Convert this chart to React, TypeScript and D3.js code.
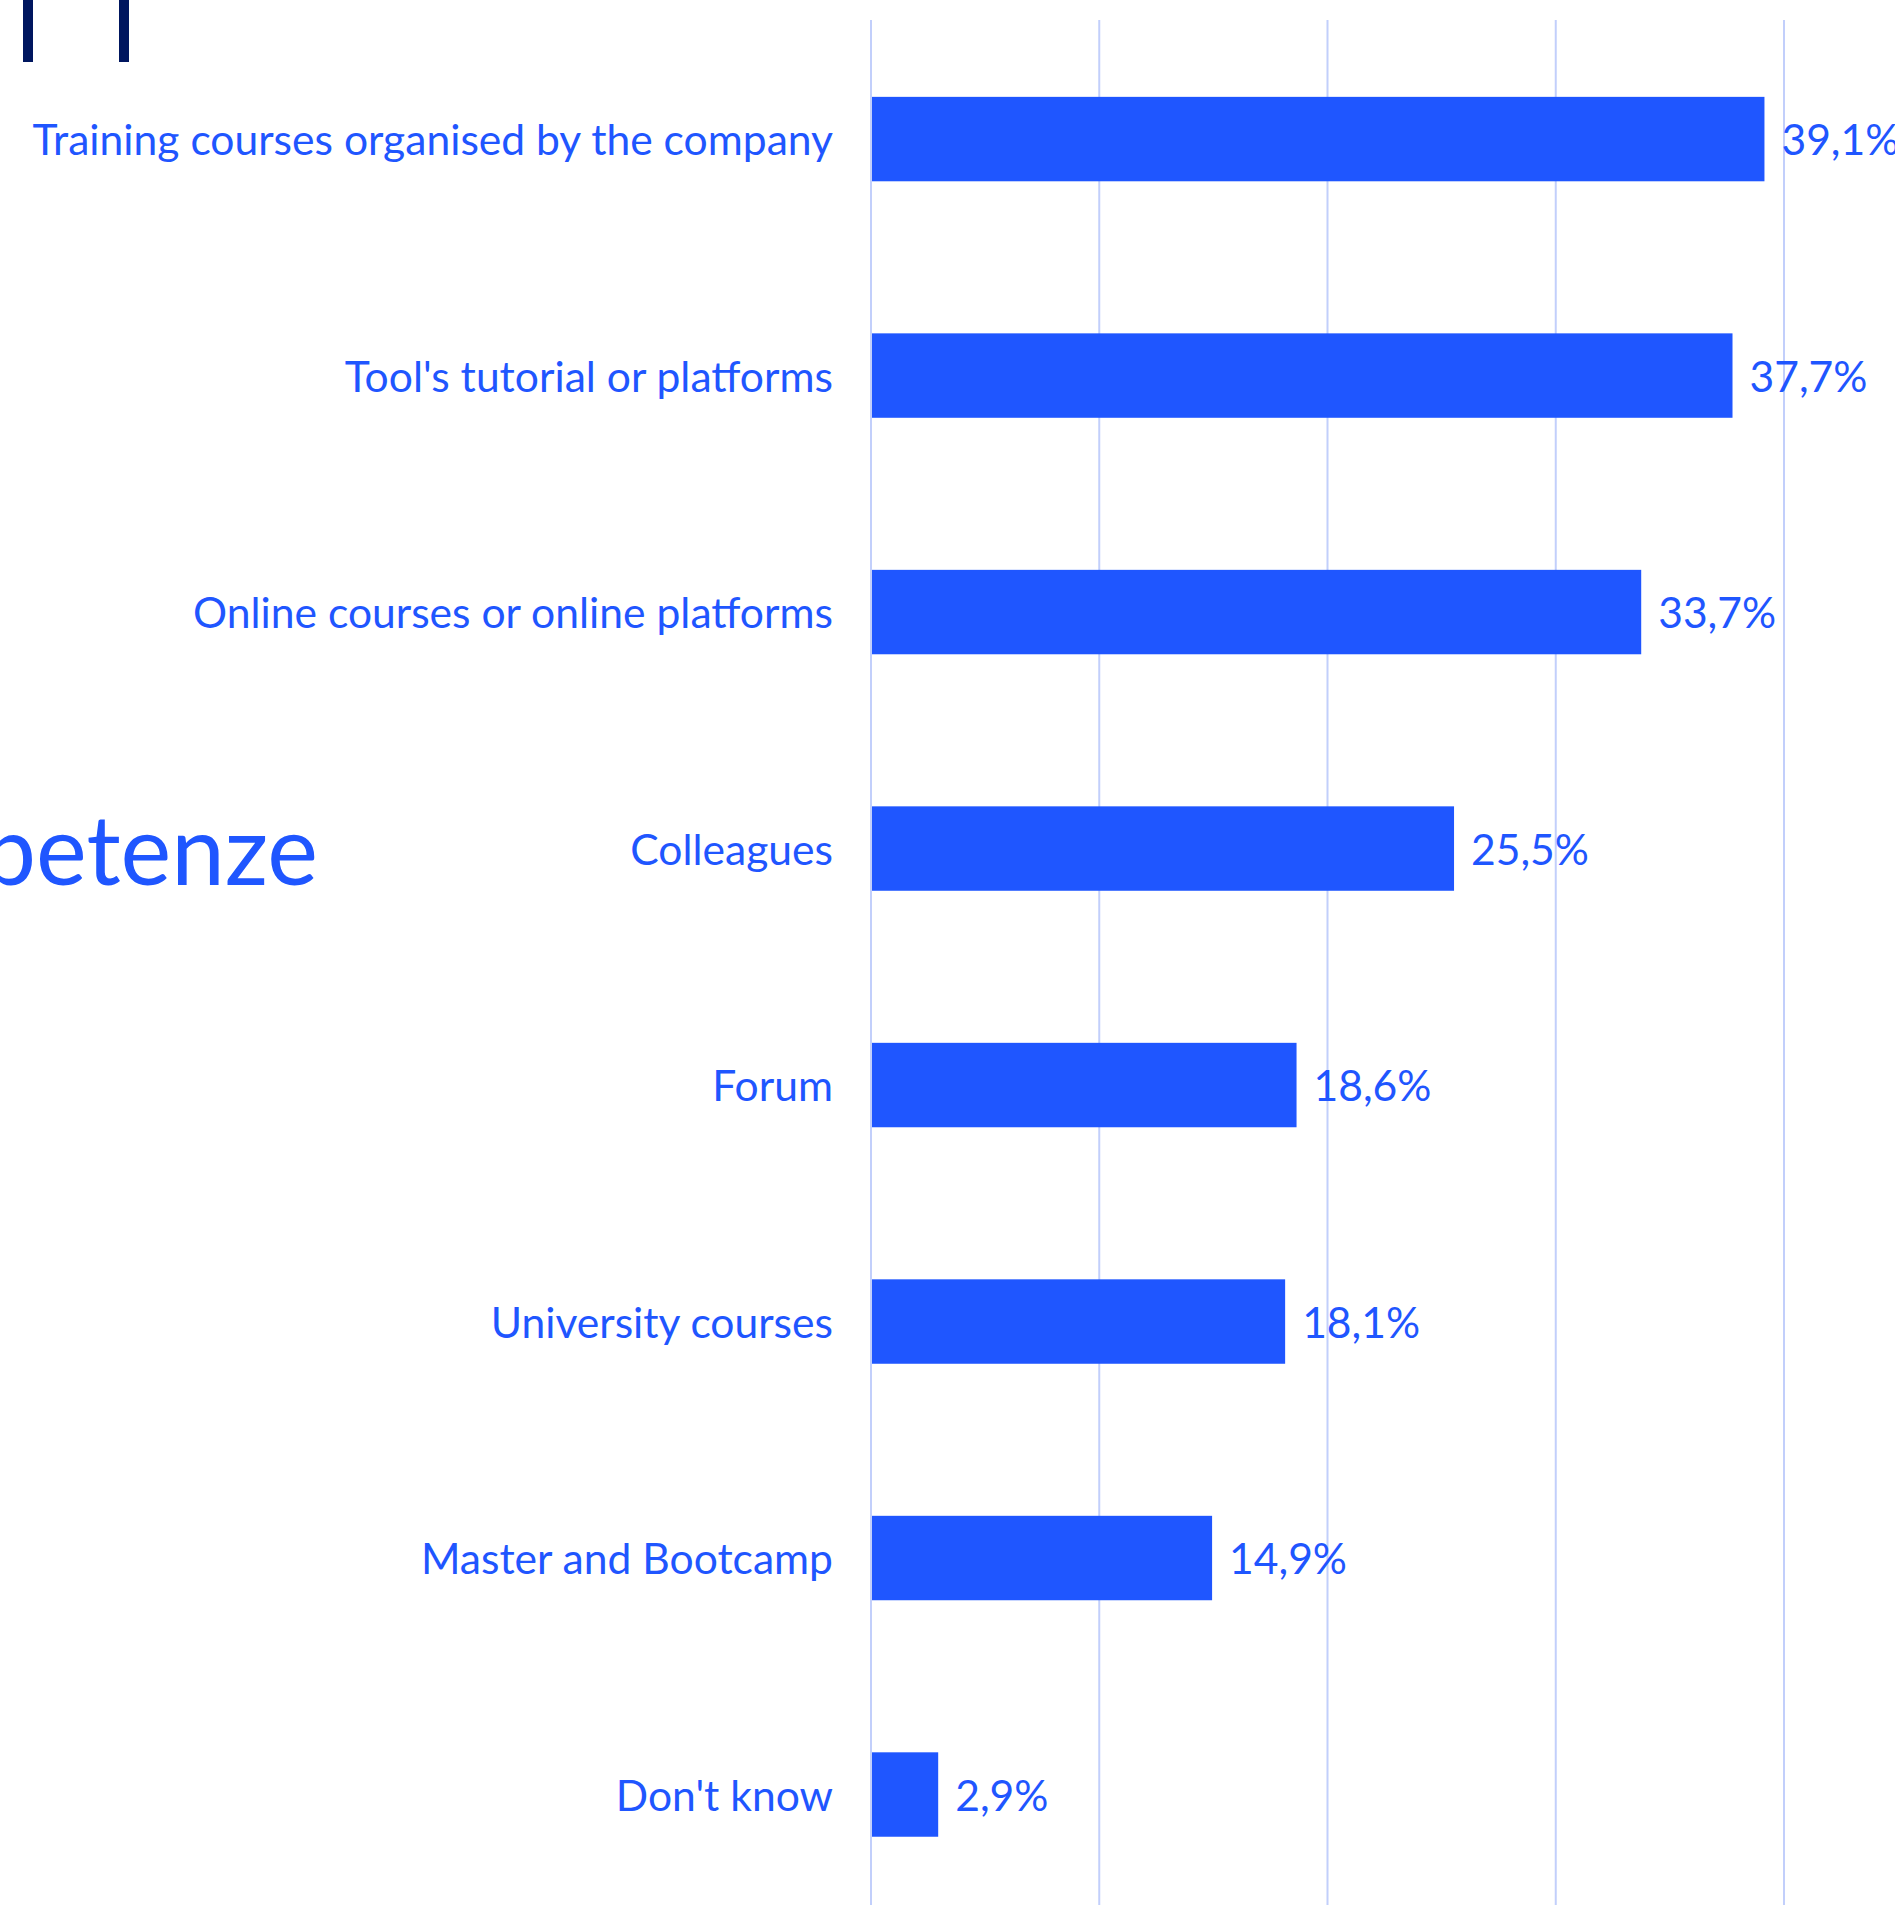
import React from "react";
import * as d3 from "d3";

const categories = [
  "Training courses organised by the company",
  "Tool's tutorial or platforms",
  "Online courses or online platforms",
  "Colleagues",
  "Forum",
  "University courses",
  "Master and Bootcamp",
  "Don't know",
];
const values = [39.1, 37.7, 33.7, 25.5, 18.6, 18.1, 14.9, 2.9];
const gridTicks = [0, 10, 20, 30, 40];
const titleFragment = "petenze";

const W = 1895;
const H = 1905;
const BLUE = "#1f56ff";
const GRID = "#c2cffb";
const NAVY = "#00165f";
const FONT = "Lato, 'Open Sans', sans-serif";

export default function App() {
  const x = d3.scaleLinear().domain([0, 40]).range([871, 1784]);
  const y = d3
    .scaleBand<string>()
    .domain(categories)
    .range([20, 1913.6])
    .paddingInner(0.643)
    .paddingOuter(0.325);
  const fmt = (v: number) => v.toFixed(1).replace(".", ",") + "%";
  const bw = y.bandwidth();

  return (
    <svg
      width={W}
      height={H}
      viewBox={`0 0 ${W} ${H}`}
      style={{ position: "absolute", left: 0, top: 0, background: "#ffffff" }}
    >
      <rect x={0} y={0} width={W} height={H} fill="#ffffff" />
      {/* decorative fragments */}
      <rect x={23} y={0} width={10} height={62} fill={NAVY} />
      <rect x={119} y={0} width={10} height={62} fill={NAVY} />
      <text
        x={318}
        y={885}
        textAnchor="end"
        fontFamily={FONT}
        fontSize={96}
        fill={BLUE}
      >
        {titleFragment}
      </text>

      {/* grid */}
      {gridTicks.map((t) => (
        <line
          key={t}
          x1={x(t)}
          x2={x(t)}
          y1={20}
          y2={H}
          stroke={GRID}
          strokeWidth={2}
        />
      ))}

      {/* bars */}
      {categories.map((c, i) => {
        const y0 = y(c)!;
        const cy = y0 + bw / 2;
        return (
          <g key={c}>
            <rect
              x={x(0) + 1}
              y={y0}
              width={x(values[i]) - x(0)}
              height={bw}
              fill={BLUE}
            />
            <text
              x={833}
              y={cy + 16}
              textAnchor="end"
              fontFamily={FONT}
              fontSize={42.6}
              fill={BLUE}
            >
              {c}
            </text>
            <text
              x={x(values[i]) + 18}
              y={cy + 16}
              textAnchor="start"
              fontFamily={FONT}
              fontSize={42.6}
              fill={BLUE}
            >
              {fmt(values[i])}
            </text>
          </g>
        );
      })}
    </svg>
  );
}
